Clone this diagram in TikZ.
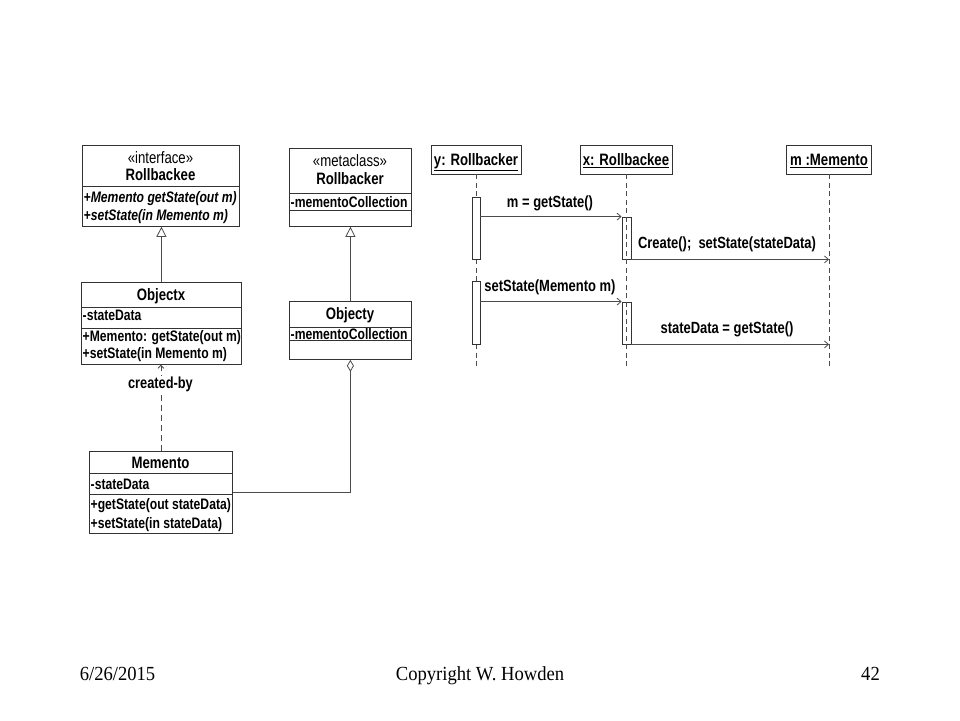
\documentclass[tikz,border=0pt]{standalone}
\usepackage{fontspec}
\setmainfont{Liberation Serif}
\newfontfamily\umlfont[FakeStretch=0.8]{Liberation Sans}
\newfontfamily\footfont[FakeStretch=0.93]{Liberation Serif}
\usetikzlibrary{arrows.meta}
\tikzset{
  cls/.style={draw=black!80, line width=0.8pt, inner sep=0pt, anchor=north west, fill=white},
  divl/.style={draw=black!80, line width=0.8pt},
  ctitle/.style={inner sep=0pt, text height=12pt, text depth=0pt, font=\umlfont\bfseries\fontsize{16.5}{19}\selectfont},
  cstereo/.style={inner sep=0pt, text height=12pt, text depth=0pt, font=\umlfont\fontsize{16.5}{19}\selectfont},
  cmem/.style={inner sep=0pt, anchor=west, text height=11pt, text depth=0pt, font=\umlfont\bfseries\fontsize{15.2}{18}\selectfont},
  cabs/.style={cmem, font=\umlfont\bfseries\itshape\fontsize{15.2}{18}\selectfont},
  gen/.style={draw=black!70, line width=0.8pt, -{Triangle[open, length=10pt, width=10pt]}},
  agg/.style={draw=black!70, line width=0.8pt, -{Diamond[open, length=12pt, width=7pt]}},
  dep/.style={draw=black!70, line width=0.8pt, dash pattern=on 6pt off 4pt, -{Straight Barb[length=3pt, width=6pt]}},
  deplabel/.style={inner sep=1pt, fill=white, text height=11.5pt, text depth=3pt, font=\umlfont\bfseries\fontsize{16}{19}\selectfont},
  head/.style={draw=black!80, line width=0.8pt, fill=white, inner sep=0pt, minimum height=29pt, text height=12pt, text depth=0pt, font=\umlfont\bfseries\fontsize{16.5}{19}\selectfont},
  life/.style={draw=black!70, line width=0.8pt, dash pattern=on 5pt off 3.5pt},
  act/.style={draw=black!80, line width=0.8pt, fill=white, inner sep=0pt, minimum width=8pt},
  xact/.style={draw=black!80, line width=0.8pt, inner sep=0pt, minimum width=9pt},
  msg/.style={draw=black!70, line width=0.8pt, -{Straight Barb[length=4pt, width=7pt]}},
  msglabel/.style={inner sep=0pt, text height=11.5pt, text depth=0pt, font=\umlfont\bfseries\fontsize{16.2}{19}\selectfont},
  foot/.style={inner sep=0pt, anchor=base, font=\footfont\fontsize{20}{24}\selectfont}
}
\begin{document}
\begin{tikzpicture}[x=1pt, y=-1pt]
\fill[white] (0,0) rectangle (960,720);
\useasboundingbox (0,0) rectangle (960,720);

% ---------- class diagram ----------
% Rollbackee
\node[cls, minimum width=157pt, minimum height=81pt] (rbk) at (82,145) {};
\draw[divl] (rbk.west |- 0,186) -- (rbk.east |- 0,186);
\node[cstereo] (rbkS) at (160.5,157) {«interface»};
\node[ctitle] (rbkN) at (160.5,174) {Rollbackee};
\node[cabs] (rbkO1) at (83.5,197) {+Memento getState(out m)};
\node[cabs] (rbkO2) at (83.5,215) {+setState(in Memento m)};

% Objectx
\node[cls, minimum width=160pt, minimum height=82pt] (ox) at (81,282) {};
\draw[divl] (ox.west |- 0,307) -- (ox.east |- 0,307);
\draw[divl] (ox.west |- 0,328) -- (ox.east |- 0,328);
\node[ctitle] (oxN) at (161,294) {Objectx};
\node[cmem] (oxA) at (82.5,315) {-stateData};
\node[cmem] (oxO1) at (82.5,336) {+Memento: getState(out m)};
\node[cmem] (oxO2) at (82.5,353) {+setState(in Memento m)};

% Rollbacker
\node[cls, minimum width=122pt, minimum height=78pt] (rbr) at (289,148) {};
\draw[divl] (rbr.west |- 0,193) -- (rbr.east |- 0,193);
\draw[divl] (rbr.west |- 0,210) -- (rbr.east |- 0,210);
\node[cstereo] (rbrS) at (350,160) {«metaclass»};
\node[ctitle] (rbrN) at (350,178) {Rollbacker};
\node[cmem] (rbrA) at (290.5,201.5) {-mementoCollection};

% Objecty
\node[cls, minimum width=122pt, minimum height=58pt] (oy) at (289,301) {};
\draw[divl] (oy.west |- 0,327) -- (oy.east |- 0,327);
\draw[divl] (oy.west |- 0,340) -- (oy.east |- 0,340);
\node[ctitle] (oyN) at (350,313) {Objecty};
\node[cmem] (oyA) at (290.5,333.5) {-mementoCollection};

% Memento
\node[cls, minimum width=143pt, minimum height=82pt] (mem) at (89,451) {};
\draw[divl] (mem.west |- 0,473) -- (mem.east |- 0,473);
\draw[divl] (mem.west |- 0,494) -- (mem.east |- 0,494);
\node[ctitle] (memN) at (160.5,462) {Memento};
\node[cmem] (memA) at (90.5,483.5) {-stateData};
\node[cmem] (memO1) at (90.5,504) {+getState(out stateData)};
\node[cmem] (memO2) at (90.5,522.5) {+setState(in stateData)};

% relations
\draw[gen] (ox.north) -- (ox.north |- rbk.south);
\draw[gen] (oy.north) -- (rbr.south);
\draw[agg] (mem.east) -| (oy.south);
\draw[dep] (mem.north) -- (mem.north |- ox.south);
\node[deplabel] (cby) at (160.5,384) {created-by};

% ---------- sequence diagram ----------
\node[head, minimum width=90pt] (yR) at (476,159.5) {\underline{y: Rollbacker}};
\node[head, minimum width=92pt] (xR) at (626,159.5) {\underline{x: Rollbackee}};
\node[head, minimum width=85pt] (mM) at (829,159.5) {\underline{m :Memento}};
\coordinate (yEnd) at (yR.south |- 0,367);
\coordinate (xEnd) at (xR.south |- 0,367);
\coordinate (mEnd) at (mM.south |- 0,367);
\draw[life] (yR.south) -- (yEnd);
\draw[life] (mM.south) -- (mEnd);

\node[act, minimum height=62pt] (ya1) at (476,228) {};
\node[act, minimum height=63pt] (ya2) at (476,312.5) {};
\node[xact, minimum height=42pt] (xa1) at (626.5,238) {};
\node[xact, minimum height=42pt] (xa2) at (626.5,323) {};
\draw[life] (xR.south) -- (xEnd);

\draw[msg] (ya1.east |- xa1.north) -- (xa1.north west);
\draw[msg] (xa1.south east) -- (xa1.south east -| mEnd);
\draw[msg] (ya2.east |- xa2.north) -- (xa2.north west);
\draw[msg] (xa2.south east) -- (xa2.south east -| mEnd);

\node[msglabel] (l1) at (550,202) {m = getState()};
\node[msglabel] (l2) at (727,243) {Create();\ \ setState(stateData)};
\node[msglabel] (l3) at (550,286) {setState(Memento m)};
\node[msglabel] (l4) at (727,328) {stateData = getState()};

% ---------- footer ----------
\node[foot] (fdate) at (117.5,680) {6/26/2015};
\node[foot] (fcopy) at (480,680) {Copyright W. Howden};
\node[foot] (fpage) at (870.5,680) {42};
\end{tikzpicture}
\end{document}
